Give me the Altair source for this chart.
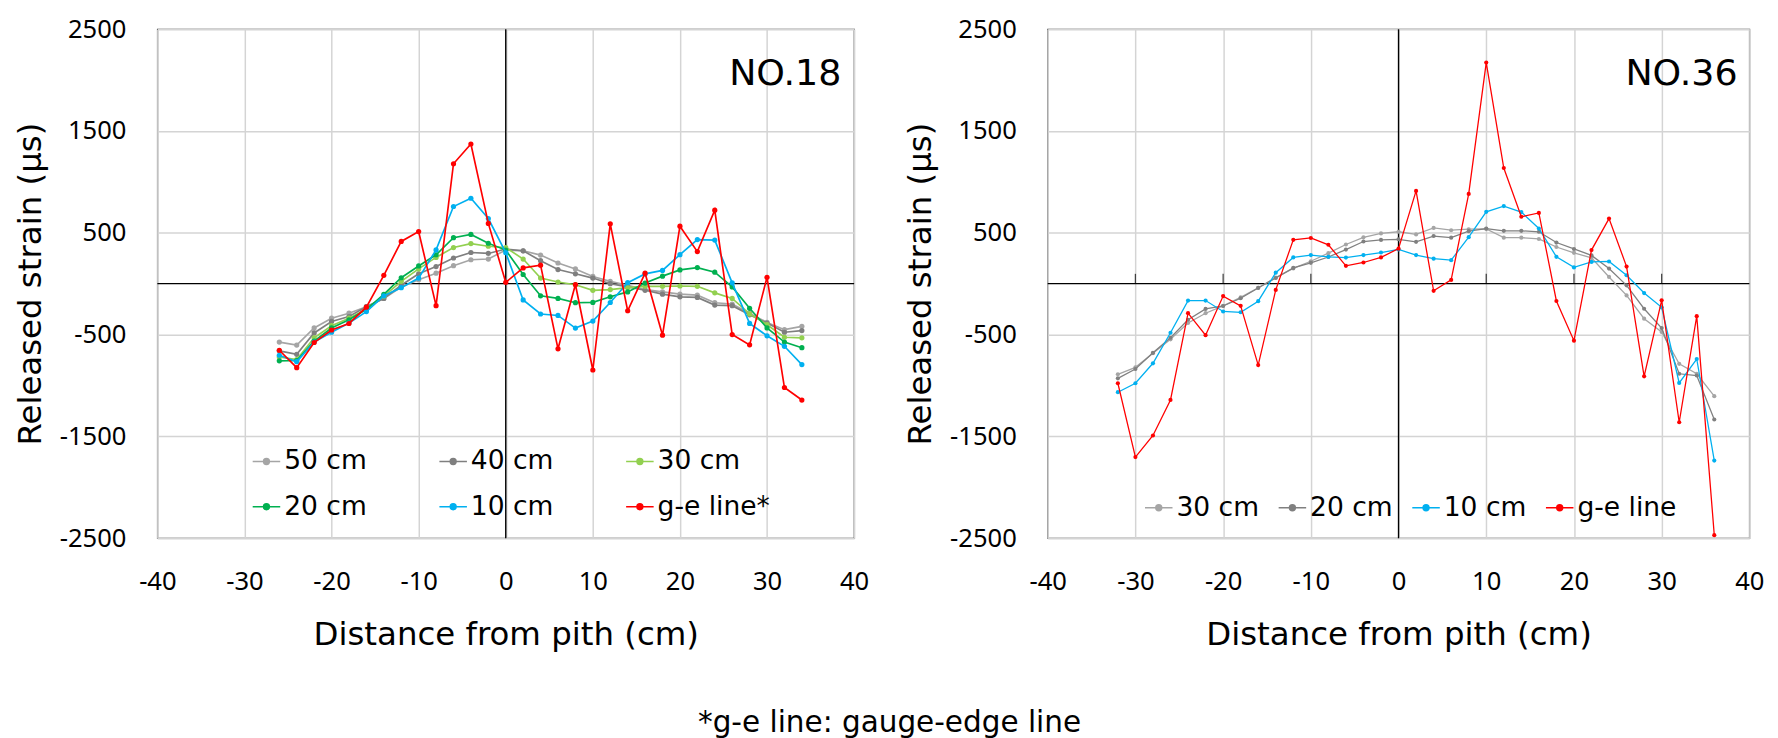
import altair as alt
import pandas as pd

FONT = "DejaVu Sans"
NUMFONT = "Noto Sans"

# ---------------- NO.18 ----------------
x_no18 = list(range(-26, 35, 2))
series_no18 = ["50 cm", "40 cm", "30 cm", "20 cm", "10 cm", "g-e line*"]
colors_no18 = ["#a5a5a5", "#7f7f7f", "#92d050", "#00b050", "#00b0f0", "#ff0000"]
no18_50 = [-574, -603, -435, -339, -290, -226, -145, -32, 39, 103, 177, 235, 242, 330, 323, 281,
           203, 145, 71, 23, -16, -58, -81, -103, -113, -187, -200, -290, -381, -452, -419]
no18_40 = [-660, -694, -484, -371, -323, -226, -145, -16, 97, 168, 252, 306, 297, 340, 323, 226,
           139, 97, 55, 0, -32, -65, -103, -129, -135, -210, -216, -306, -387, -477, -461]
no18_30 = [-720, -745, -532, -413, -339, -252, -123, 23, 145, 258, 355, 394, 368, 355, 242, 55,
           16, -10, -65, -58, -39, -26, -26, -23, -26, -90, -145, -297, -403, -526, -532]
no18_20 = [-758, -755, -565, -435, -355, -252, -106, 58, 174, 284, 452, 484, 397, 330, 90, -119,
           -145, -187, -184, -129, -81, 6, 74, 135, 158, 113, -32, -242, -435, -574, -629]
no18_10 = [-703, -766, -574, -477, -387, -274, -119, -39, 55, 332, 758, 839, 640, 305, -160, -298,
           -312, -436, -367, -185, 10, 96, 130, 285, 433, 428, 8, -390, -512, -615, -795]
no18_ge = [-654, -825, -578, -455, -391, -231, 82, 415, 512, -216, 1178, 1372, 592, 13, 155, 182,
           -640, -8, -848, 588, -266, 103, -506, 565, 315, 722, -500, -601, 63, -1020, -1143]

# ---------------- NO.36 ----------------
x_no36 = list(range(-32, 37, 2))
series_no36 = ["30 cm", "20 cm", "10 cm", "g-e line"]
colors_no36 = ["#a5a5a5", "#808080", "#00b0f0", "#ff0000"]
no36_30 = [-890, -822, -683, -547, -386, -290, -218, -135, -40, 60, 150, 220, 300, 385, 455, 494,
           510, 484, 548, 525, 535, 538, 452, 452, 439, 360, 303, 254, 66, -115, -344, -475, -787,
           -885, -1105]
no36_20 = [-930, -838, -679, -531, -354, -248, -219, -143, -42, 56, 155, 205, 262, 335, 414, 430,
           436, 411, 468, 452, 516, 541, 519, 519, 510, 404, 341, 278, 148, -16, -246, -436, -885,
           -902, -1334]
no36_10 = [-1066, -978, -782, -482, -166, -166, -273, -281, -172, 108, 258, 281, 264, 256, 281, 306,
           336, 281, 246, 231, 457, 706, 762, 703, 542, 264, 160, 214, 218, 83, -92, -232, -975,
           -740, -1738]
no36_ge = [-978, -1703, -1491, -1142, -290, -506, -122, -218, -800, -61, 431, 449, 382, 175, 208, 258,
           344, 911, -70, 37, 882, 2172, 1136, 657, 695, -170, -560, 330, 639, 168, -910, -164, -1361,
           -319, -2470]

x_ticks = [-40, -30, -20, -10, 0, 10, 20, 30, 40]
y_ticks = [-2500, -1500, -500, 500, 1500, 2500]
zero_ticks_no36 = [-30, -20, -10, 10, 20, 30]

# legend entries are laid out column by column; this order gives the reference's rows
legend_order_no18 = ["50 cm", "20 cm", "40 cm", "10 cm", "30 cm", "g-e line*"]

LEG_PATH = ("M-1,0L1,0 "
            "M0.07,0A0.07,0.07 0 1,0 -0.07,0A0.07,0.07 0 1,0 0.07,0 "
            "M0.14,0A0.14,0.14 0 1,0 -0.14,0A0.14,0.14 0 1,0 0.14,0 "
            "M0.21,0A0.21,0.21 0 1,0 -0.21,0A0.21,0.21 0 1,0 0.21,0")


def panel(xs, names, values, colors, dom_order, label, w, h, cols, lx, ly, colpad, psize, lw,
          lab_dx, ticks=None):
    rows = []
    for name, vals in zip(names, values):
        for xv, v in zip(xs, vals):
            rows.append({"x": xv, "v": v, "s": name})
    df = pd.DataFrame(rows)
    cmap = dict(zip(names, colors))

    xscale = alt.Scale(domain=[-40, 40], nice=False, zero=False)
    yscale = alt.Scale(domain=[-2500, 2500], nice=False, zero=False)
    cscale = alt.Scale(domain=dom_order, range=[cmap[n] for n in dom_order])
    common = dict(grid=True, gridColor="#d4d4d4", gridWidth=1.5, domain=False, ticks=False,
                  labelFontSize=26, labelFont=NUMFONT, labelColor="black",
                  labelFlush=False, labelOverlap=False, labelExpr="datum.value + ''",
                  titleFontSize=33, titleFont=FONT, titleFontWeight="normal", titleColor="black")
    xaxis = alt.Axis(values=x_ticks, title="Distance from pith (cm)", labelPadding=31,
                     titlePadding=25, **common)
    yaxis = alt.Axis(values=y_ticks, title="Released strain (μs)", labelPadding=32,
                     titlePadding=12, **common)
    legend = alt.Legend(title=None, orient="none", legendX=lx, legendY=ly, columns=cols,
                        symbolType=LEG_PATH, symbolSize=784, symbolStrokeWidth=1.6,
                        labelFontSize=27, labelFont=FONT, labelColor="black", labelOffset=3,
                        columnPadding=colpad, rowPadding=18, padding=0, gridAlign="each",
                        labelLimit=400)

    zero_df = pd.DataFrame({"z": [0]})
    layers = [
        alt.Chart(zero_df).mark_rule(color="black", strokeWidth=1.4).encode(
            x=alt.X("z:Q", scale=xscale, axis=xaxis)),
        alt.Chart(zero_df).mark_rule(color="black", strokeWidth=1.4).encode(
            y=alt.Y("z:Q", scale=yscale, axis=yaxis)),
    ]
    if ticks:
        tdf = pd.DataFrame({"x": ticks, "v": [0] * len(ticks)})
        layers.append(alt.Chart(tdf).mark_tick(orient="vertical", size=10, thickness=1.3,
                                               yOffset=-5, color="black").encode(
            x=alt.X("x:Q", scale=xscale), y=alt.Y("v:Q", scale=yscale)))
    for name in names:
        sub = df[df["s"] == name]
        layers.append(
            alt.Chart(sub).mark_line(strokeWidth=lw,
                                     point=alt.OverlayMarkDef(filled=True, size=psize, opacity=1)).encode(
                x=alt.X("x:Q", scale=xscale, axis=xaxis),
                y=alt.Y("v:Q", scale=yscale, axis=yaxis),
                color=alt.Color("s:N", scale=cscale, legend=legend),
            )
        )
    layers.append(
        alt.Chart(pd.DataFrame({"t": [label]})).mark_text(
            align="right", baseline="alphabetic", fontSize=37, font=FONT, color="black").encode(
            text="t:N", x=alt.value(w - lab_dx), y=alt.value(57))
    )
    return alt.layer(*layers).properties(width=w, height=h)


left = panel(x_no18, series_no18, [no18_50, no18_40, no18_30, no18_20, no18_10, no18_ge],
             colors_no18, legend_order_no18, "NO.18", 709, 518, 3, 96, 425, 69, 28, 1.7, 13)
right = panel(x_no36, series_no36, [no36_30, no36_20, no36_10, no36_ge],
              colors_no36, series_no36, "NO.36", 714, 518, 4, 98, 472, 15, 18, 1.3, 12,
              ticks=zero_ticks_no36)

chart = alt.hconcat(left, right, spacing=197, bounds="flush").resolve_scale(
    color="independent"
).properties(
    title=alt.TitleParams("*g-e line: gauge-edge line", orient="bottom", anchor="middle",
                          fontSize=30, font=FONT, fontWeight="normal", color="black", offset=58),
    padding={"left": 6, "top": 1, "right": 5, "bottom": 5},
).configure_view(stroke="#404040", strokeWidth=1.3)

chart.save("out.html", embed_options={"renderer": "svg", "actions": False})
